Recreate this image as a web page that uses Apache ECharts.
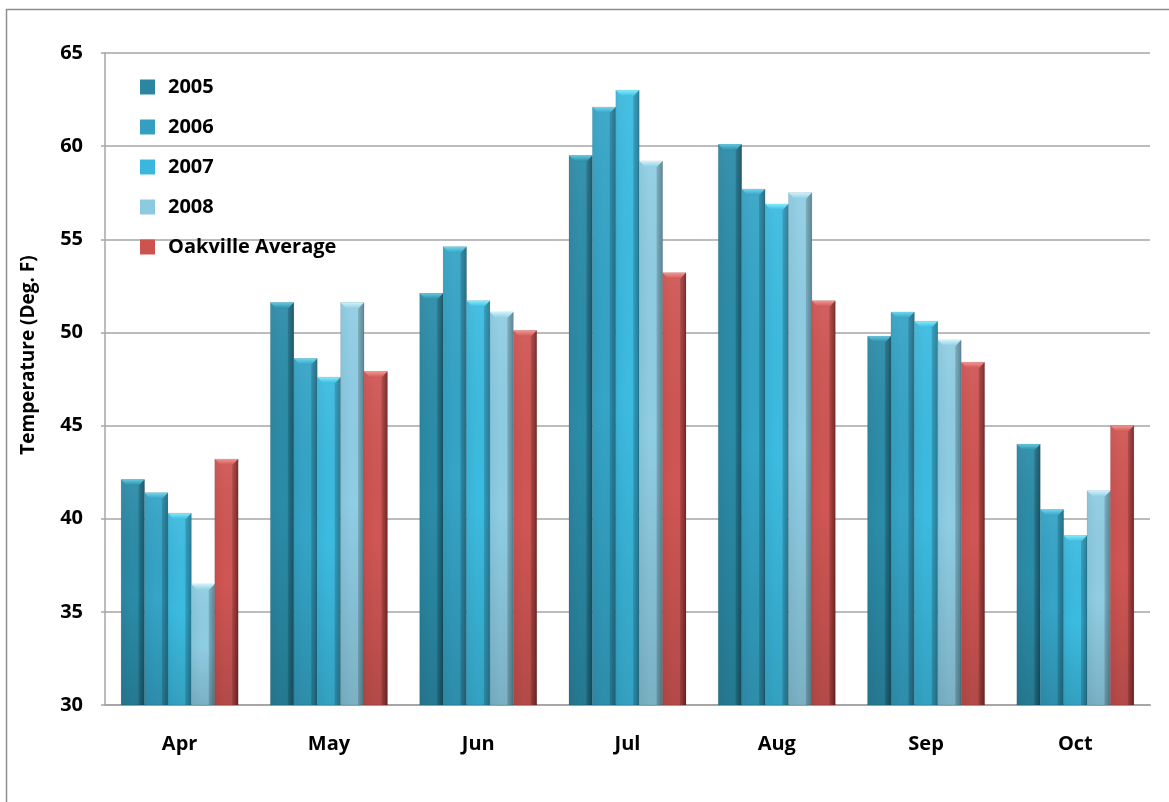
<!DOCTYPE html>
<html>
<head>
<meta charset="utf-8">
<script src="https://cdn.jsdelivr.net/npm/echarts@6/dist/echarts.min.js"></script>
<style>
  html, body { margin: 0; padding: 0; background: #ffffff; }
  #chart { width: 1169px; height: 802px; }
</style>
</head>
<body>
<div id="chart"></div>
<script>
// Monthly mean temperatures (Deg. F), April to October
const categories = ['Apr', 'May', 'Jun', 'Jul', 'Aug', 'Sep', 'Oct'];
const seriesNames = ['2005', '2006', '2007', '2008', 'Oakville Average'];
const temps2005 = [42.1, 51.6, 52.1, 59.5, 60.1, 49.8, 44.0];
const temps2006 = [41.4, 48.6, 54.6, 62.1, 57.7, 51.1, 40.5];
const temps2007 = [40.3, 47.6, 51.7, 63.0, 56.9, 50.6, 39.1];
const temps2008 = [36.5, 51.6, 51.1, 59.2, 57.5, 49.6, 41.5];
const oakvilleAvg = [43.2, 47.9, 50.1, 53.2, 51.7, 48.4, 45.0];
const yTicks = [30, 35, 40, 45, 50, 55, 60, 65];

const seriesValues = [temps2005, temps2006, temps2007, temps2008, oakvilleAvg];

// shading per series: left face, body, right edge, bevel cap
const palettes = [
  { left: '#2a85a0', body: '#2b8ca8', right: '#1d5f73', cap: '#62c8e0', legend: '#2a86a1' },
  { left: '#319dbf', body: '#35a4c6', right: '#267d98', cap: '#72d6ec', legend: '#33a0c2' },
  { left: '#38b3d8', body: '#3cbbe0', right: '#2b90af', cap: '#84ecfb', legend: '#3ab7dc' },
  { left: '#86c4db', body: '#8fcde3', right: '#6998aa', cap: '#cdf3fb', legend: '#8ccae0' },
  { left: '#c94f4d', body: '#cf5654', right: '#8a2c2c', cap: '#f29590', legend: '#cd5351' }
];

const GROUP_RATIO = 0.784;   // share of each category band taken by the bar cluster
const BASE = yTicks[0];

function makeRender(si) {
  const pal = palettes[si];
  return function (params, api) {
    const cat = api.value(0);
    const val = api.value(1);
    const top = api.coord([cat, val]);
    const bottom = api.coord([cat, BASE]);
    const band = api.size([1, 0])[0];
    const groupW = band * GROUP_RATIO;
    const w = groupW / seriesNames.length;
    const x = top[0] - groupW / 2 + si * w;
    const y = top[1];
    const h = bottom[1] - y;
    const d = Math.min(6, h / 2);
    return {
      type: 'group',
      children: [
        {
          type: 'rect',
          shape: { x: x, y: y, width: w, height: h },
          style: {
            fill: new echarts.graphic.LinearGradient(0, 0, 1, 0, [
              { offset: 0, color: pal.left },
              { offset: 0.45, color: pal.body },
              { offset: 0.75, color: pal.body },
              { offset: 1, color: pal.right }
            ]),
            stroke: 'rgba(0,0,0,0.12)',
            lineWidth: 0.8
          }
        },
        {
          type: 'rect',
          shape: { x: x, y: y, width: w, height: h },
          style: {
            fill: new echarts.graphic.LinearGradient(0, 0, 0, 1, [
              { offset: 0, color: 'rgba(255,255,255,0.06)' },
              { offset: 0.5, color: 'rgba(0,0,0,0)' },
              { offset: 1, color: 'rgba(0,0,0,0.14)' }
            ])
          }
        },
        {
          type: 'polygon',
          shape: { points: [[x + w - d, y + d], [x + w, y], [x + w, y + h], [x + w - d, y + h]] },
          style: { fill: 'rgba(0,0,0,0.16)' }
        },
        {
          type: 'polygon',
          shape: { points: [[x, y], [x + w, y], [x + w - d, y + d], [x + d, y + d]] },
          style: {
            fill: new echarts.graphic.LinearGradient(0, 0, 0, 1, [
              { offset: 0, color: pal.cap },
              { offset: 1, color: pal.body }
            ])
          }
        }
      ]
    };
  };
}

const series = seriesNames.map(function (name, si) {
  return {
    name: name,
    type: 'custom',
    renderItem: makeRender(si),
    encode: { x: 0, y: 1 },
    itemStyle: { color: palettes[si].legend },
    data: seriesValues[si].map(function (v, i) { return [i, v]; }),
    z: 3
  };
});

const FONT = '"Open Sans", Lato, "Noto Sans", sans-serif';

const chart = echarts.init(document.getElementById('chart'), null, { renderer: 'canvas' });
chart.setOption({
  animation: false,
  backgroundColor: '#ffffff',
  grid: { left: 105, right: 19, top: 53, bottom: 97 },
  graphic: [
    {
      type: 'rect',
      shape: { x: 6.5, y: 9.5, width: 1250, height: 900 },
      style: { fill: 'none', stroke: '#8f8f8f', lineWidth: 1.5 },
      silent: true,
      z: 0
    }
  ],
  legend: {
    orient: 'vertical',
    left: 135,
    top: 71,
    itemWidth: 15,
    itemHeight: 15,
    itemGap: 18,
    icon: 'rect',
    data: seriesNames,
    textStyle: { fontFamily: FONT, fontWeight: 'bold', fontSize: 20, color: '#000', lineHeight: 22, padding: [0, 0, 0, 8] }
  },
  xAxis: {
    type: 'category',
    data: categories,
    axisLine: { show: true, lineStyle: { color: '#a6a6a6', width: 2 } },
    axisTick: { show: false },
    axisLabel: { margin: 29, fontFamily: FONT, fontWeight: 'bold', fontSize: 20, color: '#000' },
    splitLine: { show: false }
  },
  yAxis: {
    type: 'value',
    min: 30,
    max: 65,
    interval: 5,
    name: 'Temperature (Deg. F)',
    nameLocation: 'middle',
    nameGap: 67,
    nameTextStyle: { fontFamily: FONT, fontWeight: 'bold', fontSize: 19, color: '#000', padding: [0, 0, 0, 48] },
    axisLine: { show: true, lineStyle: { color: '#a6a6a6', width: 1.5 } },
    axisTick: { show: true, length: 4, lineStyle: { color: '#a6a6a6', width: 1.5 } },
    axisLabel: { margin: 22, fontFamily: FONT, fontWeight: 'bold', fontSize: 20, color: '#000' },
    splitLine: { show: true, lineStyle: { color: '#a6a6a6', width: 1.5 } }
  },
  series: series
});
</script>
</body>
</html>
